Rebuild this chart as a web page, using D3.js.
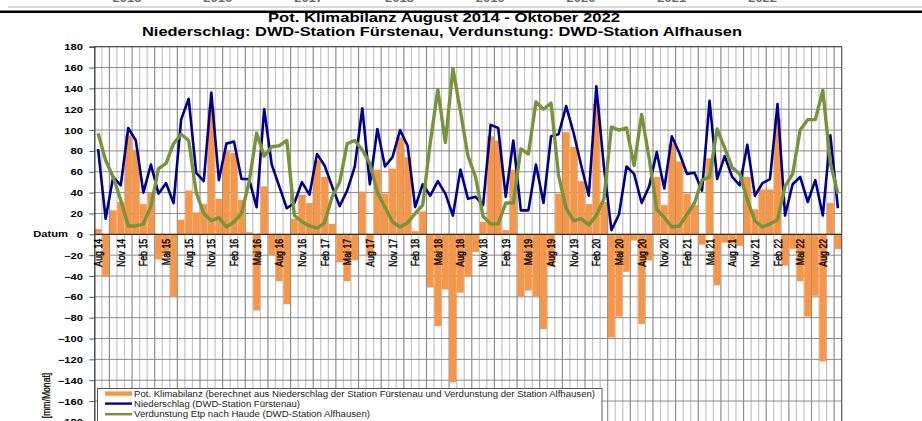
<!DOCTYPE html>
<html><head><meta charset="utf-8">
<script src="https://cdn.jsdelivr.net/npm/d3@7"></script>
<style>
body{margin:0;background:#fff}
svg{display:block}
text{font-family:"Liberation Sans",Arial,Helvetica,sans-serif}
</style>
</head><body>
<svg id="c" width="922" height="421"></svg>
<script>
// ---------- data ----------
const months = [
 "Aug 14","Sep 14","Okt 14","Nov 14","Dez 14",
 "Jan 15","Feb 15","Mrz 15","Apr 15","Mai 15","Jun 15","Jul 15","Aug 15","Sep 15","Okt 15","Nov 15","Dez 15",
 "Jan 16","Feb 16","Mrz 16","Apr 16","Mai 16","Jun 16","Jul 16","Aug 16","Sep 16","Okt 16","Nov 16","Dez 16",
 "Jan 17","Feb 17","Mrz 17","Apr 17","Mai 17","Jun 17","Jul 17","Aug 17","Sep 17","Okt 17","Nov 17","Dez 17",
 "Jan 18","Feb 18","Mrz 18","Apr 18","Mai 18","Jun 18","Jul 18","Aug 18","Sep 18","Okt 18","Nov 18","Dez 18",
 "Jan 19","Feb 19","Mrz 19","Apr 19","Mai 19","Jun 19","Jul 19","Aug 19","Sep 19","Okt 19","Nov 19","Dez 19",
 "Jan 20","Feb 20","Mrz 20","Apr 20","Mai 20","Jun 20","Jul 20","Aug 20","Sep 20","Okt 20","Nov 20","Dez 20",
 "Jan 21","Feb 21","Mrz 21","Apr 21","Mai 21","Jun 21","Jul 21","Aug 21","Sep 21","Okt 21","Nov 21","Dez 21",
 "Jan 22","Feb 22","Mrz 22","Apr 22","Mai 22","Jun 22","Jul 22","Aug 22","Sep 22","Okt 22"
];
const tickLabels = ["Aug 14","Nov 14","Feb 15","Mai 15","Aug 15","Nov 15","Feb 16","Mai 16","Aug 16","Nov 16",
 "Feb 17","Mai 17","Aug 17","Nov 17","Feb 18","Mai 18","Aug 18","Nov 18","Feb 19","Mai 19","Aug 19","Nov 19",
 "Feb 20","Mai 20","Aug 20","Nov 20","Feb 21","Mai 21","Aug 21","Nov 21","Feb 22","Mai 22","Aug 22"];
// Niederschlag (DWD-Station Fürstenau) [mm/Monat]
const niederschlag = [82,15,55,47,102,90,40,67,39,49, 30,110,130,59,51,136,52,87,89,53, 53,26,120,67,46,25,30,50,38,77,
 66,46,27,42,65,121,48,101,65,74, 100,85,26,48,37,51,39,18,62,34, 36,28,105,102,36,90,23,23,67,30,
 94,96,123,97,66,37,142,65,4,19, 65,58,30,46,79,44,94,78,58,59, 42,128,53,75,55,47,86,37,49,53, 125,18,48,55,31,52,18,95,25];
// Verdunstung Etp nach Haude (DWD-Station Alfhausen)
const verdunstung = [97,71,55,33,8,8,10,27,63,68, 87,96,90,40,20,13,16,7,12,20, 50,97,75,84,85,90,18,12,8,6,
 11,36,50,87,90,81,68,40,26,12, 7,11,20,28,88,139,88,159,118,75, 55,17,10,10,30,30,82,77,127,120,
 126,56,25,13,15,9,18,34,103,100, 102,66,115,73,24,16,7,8,19,30, 52,55,101,83,64,58,33,13,7,10, 14,46,58,100,110,110,138,68,39];
// Pot. Klimabilanz
const klimabilanz = [5,-41,23,31,95,81,29,40,-24,-20, -60,14,42,21,29,122,34,80,78,33, 2,-73,46,-20,-45,-67,15,38,30,71,
 55,10,-27,-45,-25,41,-20,62,39,63, 93,74,3,22,-51,-88,-53,-142,-56,-41, -17,12,94,90,4,62,-60,-54,-60,-91,
 -31,39,98,84,51,29,125,31,-99,-79, -36,-6,-86,-25,55,28,87,70,39,28, -10,73,-49,-8,-9,-11,55,24,43,43, 111,-30,-14,-45,-79,-59,-122,30,-14];
const yTicks = [-180,-160,-140,-120,-100,-80,-60,-40,-20,0,20,40,60,80,100,120,140,160,180];
const topYears = ["2015","2016","2017","2018","2019","2020","2021","2022"];
const legendItems = [
 "Pot. Klimabilanz (berechnet aus Niederschlag der Station Fürstenau und Verdunstung der Station Alfhausen)",
 "Niederschlag (DWD-Station Fürstenau)",
 "Verdunstung Etp nach Haude (DWD-Station Alfhausen)"];

// ---------- drawing ----------
const C_BAR = "#F79646", C_P = "#00008B", C_E = "#77933C";
const SX = 1.3; // horizontal text stretch of the original picture
const svg = d3.select("#c");
svg.append("rect").attr("width",922).attr("height",421).attr("fill","#fff");

const L = 94.3, R = 841.7, T = 46.7, B = 421.9;
const x = d3.scaleBand().domain(d3.range(months.length)).range([L, R]).paddingInner(0.1).paddingOuter(0.05);
const y = d3.scaleLinear().domain([-180, 180]).range([B, T]);
const step = x.step();
const cx = i => x(i) + x.bandwidth()/2;

// remnant of previous chart at top
const yr = svg.append("g");
topYears.forEach((t,k)=>{
  yr.append("text").attr("transform",`translate(${127 + k*90.8},2.4) scale(${SX},1)`)
    .attr("text-anchor","middle").attr("font-size",10).attr("font-weight","bold").attr("fill","#6a6a6a").text(t);
});
svg.append("line").attr("x1",8).attr("x2",922).attr("y1",7).attr("y2",7).attr("stroke","#b5b5b5").attr("stroke-width",1);
svg.append("line").attr("x1",0).attr("x2",922).attr("y1",11.8).attr("y2",11.8).attr("stroke","#000").attr("stroke-width",2.4);

// titles
svg.append("text").attr("x",444).attr("y",21.5).attr("text-anchor","middle").attr("font-size",12.5)
  .attr("font-weight","bold").attr("textLength",352).attr("lengthAdjust","spacingAndGlyphs")
  .text("Pot. Klimabilanz August 2014 - Oktober 2022");
svg.append("text").attr("x",442).attr("y",36.2).attr("text-anchor","middle").attr("font-size",12.5)
  .attr("font-weight","bold").attr("textLength",600).attr("lengthAdjust","spacingAndGlyphs")
  .text("Niederschlag: DWD-Station Fürstenau, Verdunstung: DWD-Station Alfhausen");

// vertical grid (month boundaries)
const grid = svg.append("g");
d3.range(1, months.length).forEach(k=>{
  const gx = x(k) - step*x.paddingInner()/2;
  grid.append("line").attr("x1",gx).attr("x2",gx).attr("y1",T).attr("y2",B)
    .attr("stroke", k%3===2 ? "#8f8f8f" : "#c4c4c4").attr("stroke-width",1.2);
});
// horizontal grid
grid.selectAll("line.h").data(yTicks).join("line").attr("class","h")
  .attr("x1",L).attr("x2",R).attr("y1",d=>y(d)).attr("y2",d=>y(d))
  .attr("stroke","#8a8a8a").attr("stroke-width",1);

// bars
svg.append("g").selectAll("rect").data(klimabilanz).join("rect")
  .attr("x",(d,i)=>x(i)).attr("width",x.bandwidth())
  .attr("y",d=>y(Math.max(0,d))).attr("height",d=>Math.abs(y(d)-y(0)))
  .attr("fill",C_BAR);

// frame + zero line
svg.append("line").attr("x1",L).attr("x2",R).attr("y1",T).attr("y2",T).attr("stroke","#555").attr("stroke-width",1.2);
svg.append("line").attr("x1",R).attr("x2",R).attr("y1",T).attr("y2",B).attr("stroke","#555").attr("stroke-width",1.2);
svg.append("line").attr("x1",L).attr("x2",R).attr("y1",y(0)).attr("y2",y(0)).attr("stroke","#3a2a20").attr("stroke-width",1.3);

// lines
const line = d3.line().x((d,i)=>cx(i)).y(d=>y(d));
svg.append("path").datum(niederschlag).attr("d",line).attr("fill","none")
  .attr("stroke",C_P).attr("stroke-width",2.6).attr("stroke-linejoin","round");
svg.append("path").datum(verdunstung).attr("d",line).attr("fill","none")
  .attr("stroke",C_E).attr("stroke-width",3.4).attr("stroke-linejoin","round");

// y axis
const ya = svg.append("g").attr("transform",`translate(${L},0)`)
  .call(d3.axisLeft(y).tickValues(yTicks).tickSize(5).tickPadding(0).tickFormat(d3.format("d")));
ya.select(".domain").attr("stroke","#333").attr("stroke-width",1.3);
ya.selectAll(".tick line").attr("stroke","#555");
ya.selectAll(".tick text").attr("x",0).attr("dy","0.35em")
  .attr("transform",`translate(-11.3,0) scale(${SX},1)`)
  .attr("font-size",8.6).attr("font-weight","bold").attr("fill","#000")
  .attr("font-family","Liberation Sans, Arial, sans-serif");

// x axis labels
const labelIdx = tickLabels.map(t=>months.indexOf(t));
const xa = svg.append("g").attr("transform",`translate(0,${y(0)})`)
  .call(d3.axisBottom(x).tickValues(labelIdx).tickFormat(i=>months[i]).tickSize(0));
xa.select(".domain").remove();
xa.selectAll(".tick text").attr("x",-4.5).attr("y",0).attr("dy","0.35em")
  .attr("text-anchor","end").attr("transform",`scale(${SX},1) rotate(-90)`)
  .attr("font-size",8.8).attr("fill","#000").attr("stroke","#000").attr("stroke-width",0.3)
  .attr("font-family","Liberation Sans, Arial, sans-serif");

// Datum label
svg.append("text").attr("transform",`translate(68,${y(0)}) scale(${SX},1)`).attr("dy","0.35em")
  .attr("text-anchor","end").attr("font-size",8.6).attr("font-weight","bold").text("Datum");

// y title
svg.append("text").attr("transform",`translate(46,395.5) scale(${SX},1) rotate(-90)`).attr("dy","0.35em")
  .attr("text-anchor","middle").attr("font-size",8.6).attr("stroke","#000").attr("stroke-width",0.2).text("[mm/Monat]");

// legend
const lg = svg.append("g");
lg.append("rect").attr("x",97.5).attr("y",388.5).attr("width",504.5).attr("height",60)
  .attr("fill","#fff").attr("stroke","#555").attr("stroke-width",1);
const rows = [393.6, 403.6, 414.2];
const widths = [461, 166, 236];
lg.append("rect").attr("x",105).attr("y",rows[0]-2.2).attr("width",27).attr("height",4.4).attr("fill",C_BAR);
lg.append("line").attr("x1",105).attr("x2",132).attr("y1",rows[1]).attr("y2",rows[1]).attr("stroke",C_P).attr("stroke-width",2.4);
lg.append("line").attr("x1",105).attr("x2",132).attr("y1",rows[2]).attr("y2",rows[2]).attr("stroke",C_E).attr("stroke-width",2.4);
legendItems.forEach((t,k)=>{
  lg.append("text").attr("x",134).attr("y",rows[k]).attr("dy","0.35em").attr("font-size",8.4)
    .attr("fill","#1a1a1a").attr("textLength",widths[k]).attr("lengthAdjust","spacingAndGlyphs").text(t);
});
</script>
</body></html>
